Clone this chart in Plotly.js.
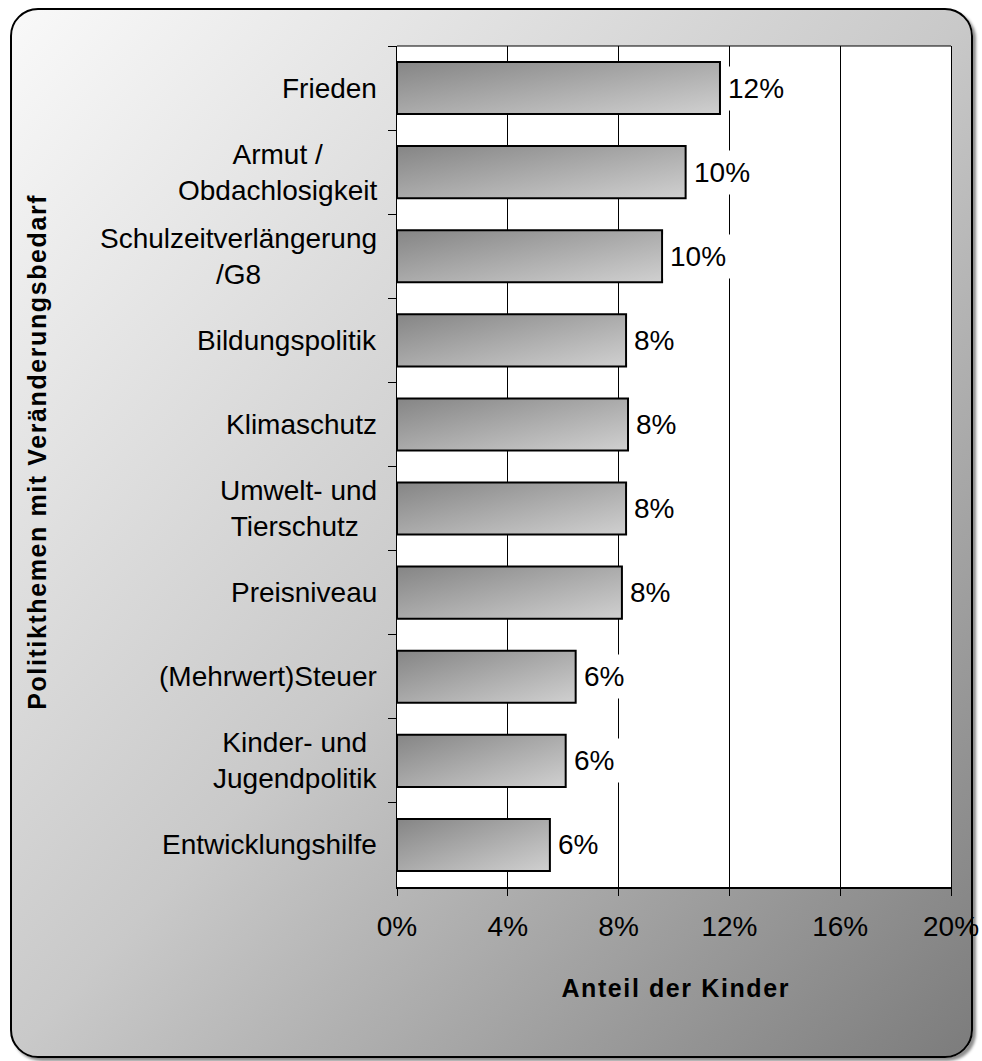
<!DOCTYPE html>
<html>
<head>
<meta charset="utf-8">
<script src="https://cdn.plot.ly/plotly-3.0.1.min.js"></script>
<style>
  html, body { margin: 0; padding: 0; overflow: hidden; background: #ffffff; }
  #frame {
    position: absolute; left: 10px; top: 8px; width: 963px; height: 1050px;
    box-sizing: border-box; border: 2px solid #000; border-radius: 28px;
    background: linear-gradient(to bottom right, #f9f9f9 0%, #c9c9c9 50%, #7c7c7c 100%);
    box-shadow: 3px 3px 3px rgba(0,0,0,0.45);
  }
  #chart { position: absolute; left: 0; top: 0; width: 982px; height: 1061px; }
</style>
</head>
<body>
<div id="frame"></div>
<div id="chart"></div>
<script>
// ---- data ----
const categories = [
  'Frieden',
  'Armut /<br>Obdachlosigkeit',
  'Schulzeitverlängerung<br>/G8',
  'Bildungspolitik',
  'Klimaschutz',
  'Umwelt- und<br>Tierschutz\u00a0',
  'Preisniveau',
  '(Mehrwert)Steuer',
  'Kinder- und<br>Jugendpolitik',
  'Entwicklungshilfe'
];
const values = [11.66, 10.42, 9.57, 8.27, 8.34, 8.27, 8.12, 6.45, 6.09, 5.52];
const valueLabels = ['12%', '10%', '10%', '8%', '8%', '8%', '8%', '6%', '6%', '6%'];
const xTickValues = [0, 4, 8, 12, 16, 20];
const xTickLabels = ['0%', '4%', '8%', '12%', '16%', '20%'];
const xTitle = 'Anteil der Kinder';
const yTitle = 'Politikthemen mit Veränderungsbedarf';

const FONT = 'Arial, "Liberation Sans", sans-serif';
const FS = 28;

const trace = {
  type: 'bar',
  orientation: 'h',
  x: values,
  y: categories,
  marker: { color: '#a8a8a8', line: { color: '#000000', width: 2 } },
  hoverinfo: 'none'
};

const annotations = [];
categories.forEach((c, i) => {
  annotations.push({
    x: 0, xref: 'paper', y: c, yref: 'y',
    xanchor: 'right', yanchor: 'middle', xshift: -18,
    text: c, align: 'center', showarrow: false,
    font: { family: FONT, size: FS, color: '#000' }
  });
  annotations.push({
    x: values[i], xref: 'x', y: c, yref: 'y',
    xanchor: 'left', yanchor: 'middle', xshift: 1,
    text: valueLabels[i], showarrow: false,
    bgcolor: '#ffffff', borderpad: 6,
    font: { family: FONT, size: FS, color: '#000' }
  });
});
annotations.push({
  x: (676 - 397) / 554, xref: 'paper', y: (887 - 988) / 841, yref: 'paper',
  xanchor: 'center', yanchor: 'middle', text: xTitle, showarrow: false,
  font: { family: FONT, size: 25, color: '#000', weight: 'bold' }
});
annotations.push({
  x: (37 - 397) / 554, xref: 'paper', y: (887 - 452) / 841, yref: 'paper',
  xanchor: 'center', yanchor: 'middle', textangle: -90, text: yTitle, showarrow: false,
  font: { family: FONT, size: 25, color: '#000', weight: 'bold' }
});

const layout = {
  width: 982, height: 1061,
  margin: { l: 397, r: 31, t: 46, b: 174, pad: 0 },
  paper_bgcolor: 'rgba(0,0,0,0)',
  plot_bgcolor: '#ffffff',
  showlegend: false,
  bargap: 0.38,
  font: { family: FONT, color: '#000' },
  xaxis: {
    range: [0, 20], tickvals: xTickValues, ticktext: xTickLabels,
    ticks: 'outside', ticklen: 7, tickcolor: '#000', tickwidth: 1,
    ticklabelstandoff: 6,
    showgrid: true, gridcolor: '#000', gridwidth: 1,
    showline: true, linecolor: '#000', linewidth: 2, mirror: false,
    zeroline: false, tickfont: { family: FONT, size: FS, color: '#000' },
    fixedrange: true
  },
  yaxis: {
    type: 'category', categoryorder: 'array', categoryarray: categories,
    range: [9.5, -0.5], tickson: 'boundaries',
    ticks: 'outside', ticklen: 8, tickcolor: '#000', tickwidth: 1,
    showticklabels: false, showgrid: false,
    showline: true, linecolor: '#000', linewidth: 1, mirror: true,
    zeroline: false, fixedrange: true
  },
  shapes: [{
    type: 'line', xref: 'paper', yref: 'paper', x0: 0, x1: 1, y0: 1, y1: 1,
    line: { color: '#000', width: 1 }
  }],
  annotations: annotations
};

Plotly.newPlot('chart', [trace], layout, { displayModeBar: false, staticPlot: true }).then(gd => {
  // gradient fill for the bars
  const svgNS = 'http://www.w3.org/2000/svg';
  const defs = gd.querySelector('.main-svg defs');
  const grad = document.createElementNS(svgNS, 'linearGradient');
  grad.setAttribute('id', 'barGrad');
  grad.setAttribute('x1', '0'); grad.setAttribute('y1', '0');
  grad.setAttribute('x2', '1'); grad.setAttribute('y2', '1');
  [['0%', '#858585'], ['100%', '#d0d0d0']].forEach(([o, c]) => {
    const s = document.createElementNS(svgNS, 'stop');
    s.setAttribute('offset', o); s.setAttribute('stop-color', c);
    grad.appendChild(s);
  });
  defs.appendChild(grad);
  gd.querySelectorAll('.bars .point path').forEach(p => { p.style.fill = 'url(#barGrad)'; });
  // slight letter spacing on the axis titles, as in the original
  gd.querySelectorAll('.annotation-text').forEach(t => {
    if (t.textContent === xTitle || t.textContent === yTitle) t.style.letterSpacing = '1.6px';
  });
});
</script>
</body>
</html>
